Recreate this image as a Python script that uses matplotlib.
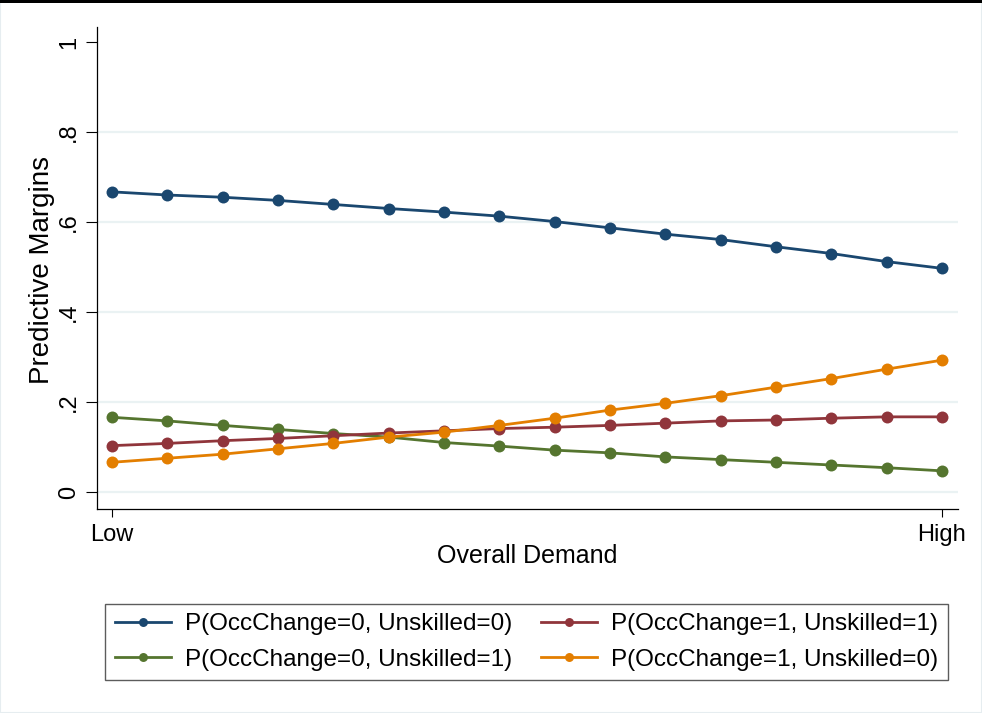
import matplotlib
matplotlib.use("Agg")
import matplotlib.pyplot as plt
from matplotlib.patches import Rectangle

plt.rcParams['font.family'] = ['Liberation Sans', 'DejaVu Sans']

# demand steps from Low to High
steps = list(range(16))
tick_pos = [0, 15]
tick_lab = ['Low', 'High']

occ0_unsk0 = [0.667, 0.660, 0.655, 0.648, 0.639, 0.630, 0.622, 0.613,
              0.601, 0.587, 0.573, 0.561, 0.545, 0.530, 0.512, 0.497]
occ0_unsk1 = [0.166, 0.158, 0.148, 0.139, 0.130, 0.122, 0.110, 0.102,
              0.093, 0.087, 0.078, 0.072, 0.066, 0.060, 0.054, 0.047]
occ1_unsk1 = [0.103, 0.108, 0.114, 0.119, 0.125, 0.131, 0.136, 0.141,
              0.144, 0.148, 0.153, 0.158, 0.160, 0.164, 0.167, 0.167]
occ1_unsk0 = [0.066, 0.075, 0.084, 0.096, 0.108, 0.122, 0.133, 0.148,
              0.164, 0.182, 0.197, 0.214, 0.233, 0.252, 0.273, 0.293]

y_ticks = [0, 0.2, 0.4, 0.6, 0.8, 1.0]
y_lab = ['0', '.2', '.4', '.6', '.8', '1']

W, H = 982, 713
fig = plt.figure(figsize=(W / 100, H / 100), dpi=100)
fig.patch.set_facecolor('white')

# stata style frame
fig.patches.append(Rectangle((0, 0), 1, 1, transform=fig.transFigure,
                             fill=False, edgecolor='#e6edf0', linewidth=1.5))
fig.patches.append(Rectangle((0, 1 - 3 / H), 1, 3 / H, transform=fig.transFigure,
                             facecolor='black', edgecolor='none'))

ax = fig.add_axes([97 / W, 1 - 509 / H, (958 - 97) / W, (509 - 27) / H])
ax.set_xlim(-15 / 55.33, 15 + 16 / 55.33)
ax.set_ylim(-17 / 450, 1 + 15 / 450)

for g in y_ticks[:-1]:
    ax.axhline(g, color='#eaf2f3', linewidth=1.6, zorder=0)

series = [
    (occ0_unsk0, '#1a476f', 'P(OccChange=0, Unskilled=0)'),
    (occ0_unsk1, '#55752f', 'P(OccChange=0, Unskilled=1)'),
    (occ1_unsk1, '#90353b', 'P(OccChange=1, Unskilled=1)'),
    (occ1_unsk0, '#e37e00', 'P(OccChange=1, Unskilled=0)'),
]
handles = []
for vals, col, lab in series:
    h, = ax.plot(steps, vals, color=col, linewidth=2.0, marker='o',
                 markersize=8.6, markeredgewidth=0, label=lab, zorder=3)
    handles.append(h)

for s in ['top', 'right']:
    ax.spines[s].set_visible(False)
for s in ['left', 'bottom']:
    ax.spines[s].set_linewidth(0.9)

ax.set_yticks(y_ticks)
ax.set_yticklabels(y_lab, rotation=90, va='center')
ax.set_xticks(tick_pos)
ax.set_xticklabels(tick_lab)
ax.tick_params(axis='y', length=8, width=0.8, pad=4.3, labelsize=17)
ax.tick_params(axis='x', length=5.8, width=0.8, pad=4.7, labelsize=17)

fig.text(42 / W, 1 - 270 / H, 'Predictive Margins', rotation=90,
         ha='center', va='center', fontsize=20)
fig.text(527 / W, 1 - 563 / H, 'Overall Demand', ha='center',
         va='baseline', fontsize=18)

leg = fig.legend(handles=handles, ncol=2, loc='center',
                 bbox_to_anchor=(105 / W, 1 - 682 / H, (948 - 105) / W, 80 / H),
                 mode='expand', fontsize=17.5, frameon=True, fancybox=False,
                 handlelength=2.3, handletextpad=0.6, columnspacing=1.0,
                 labelspacing=0.55, borderpad=0.4, markerscale=0.75,
                 borderaxespad=0)
leg.get_frame().set_edgecolor('#333333')
leg.get_frame().set_linewidth(1.0)

fig.savefig('out.png', dpi=100, facecolor='white')
